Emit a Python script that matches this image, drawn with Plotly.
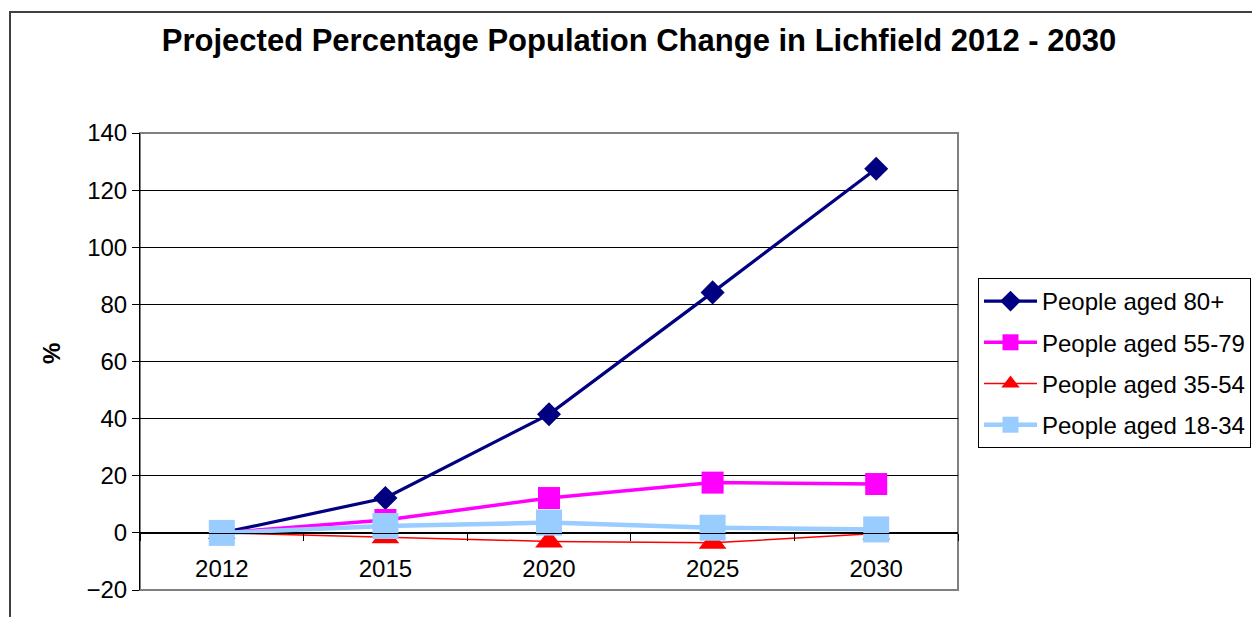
import plotly.graph_objects as go

years = ["2012", "2015", "2020", "2025", "2030"]
aged_80_plus = [0, 12.2, 41.5, 84.2, 127.5]
aged_55_79 = [0, 4.5, 12.2, 17.6, 17.1]
aged_35_54 = [0, -1.5, -3.0, -3.5, -0.2]
aged_18_34 = [0, 2.4, 3.6, 1.8, 1.2]

FONT = "Liberation Sans, Arial, sans-serif"

OFF = 8  # page body margin
W, H = 1260 - OFF, 625 - 2 * OFF
L, R, T, B = 140 - OFF, 958 - OFF, 133 - OFF, 590 - OFF


def px_x(p):
    return (p - OFF - L) / (R - L)


def px_y(p):
    return (B - (p - OFF)) / (B - T)


fig = go.Figure()

series = [
    ("People aged 80+", aged_80_plus, "#000080", 3.2, "diamond", 18.5),
    ("People aged 55-79", aged_55_79, "#FF00FF", 3.5, "square", 22),
    ("People aged 35-54", aged_35_54, "#FF0000", 1.5, "triangle-up", 24),
    ("People aged 18-34", aged_18_34, "#99CCFF", 4.5, "square", 26),
]

for i, (name, vals, col, lw, sym, ms) in enumerate(series):
    fig.add_trace(go.Scatter(
        x=years, y=vals, name=name, mode="lines+markers",
        line=dict(color=col, width=lw),
        marker=dict(symbol=sym, size=ms, color=col, line=dict(width=0)),
        legendgroup=f"g{i}",
    ))

fig.update_layout(
    width=W, height=H,
    margin=dict(l=L, r=W - R, t=T, b=H - B, pad=0, autoexpand=False),
    paper_bgcolor="white", plot_bgcolor="white",
    font=dict(family=FONT, size=24, color="black"),
    title=dict(
        text="<b>Projected Percentage Population Change in Lichfield 2012 - 2030</b>",
        x=px_x(639), xref="paper", xanchor="center",
        y=1 - (40 - OFF) / H, yref="container", yanchor="middle",
        font=dict(family=FONT, size=31, color="black"),
    ),
    xaxis=dict(
        type="category", categoryorder="array", categoryarray=years,
        range=[-0.5, 4.5], anchor="free", position=(0 - (-20)) / 160,
        showline=True, linecolor="black", linewidth=1,
        ticks="outside", tickson="boundaries", ticklen=7, tickcolor="black",
        showgrid=False, zeroline=False,
        tickfont=dict(family=FONT, size=24, color="black"),
        ticklabelstandoff=14,
    ),
    yaxis=dict(
        range=[-20, 140], dtick=20, tick0=0,
        showgrid=True, gridcolor="black", gridwidth=1,
        showline=True, linecolor="black", linewidth=1,
        ticks="outside", ticklen=7, tickcolor="black",
        zeroline=False,
        tickfont=dict(family=FONT, size=24, color="black"),
    ),
    legend=dict(
        x=px_x(978), xanchor="left", xref="paper",
        y=px_y(278), yanchor="top", yref="paper",
        bordercolor="#000000", borderwidth=1, bgcolor="white",
        font=dict(family=FONT, size=24, color="black"),
        tracegroupgap=7, itemwidth=53,
    ),
    showlegend=True,
)

# plot-area frame
fig.add_shape(type="rect", xref="paper", yref="paper", x0=0, x1=1, y0=0, y1=1,
              line=dict(color="#808080", width=2), fillcolor="rgba(0,0,0,0)", layer="below")
# outer chart frame
fig.add_shape(type="rect", xref="paper", yref="paper",
              x0=px_x(10), x1=px_x(1275), y0=px_y(640), y1=px_y(12),
              line=dict(color="#404040", width=2), fillcolor="rgba(0,0,0,0)", layer="below")

fig.add_annotation(text="<b>%</b>", xref="paper", yref="paper",
                   x=px_x(51), y=px_y(354), showarrow=False, textangle=-90,
                   font=dict(family=FONT, size=24, color="black"),
                   xanchor="center", yanchor="middle")

fig.write_html("out.html")
